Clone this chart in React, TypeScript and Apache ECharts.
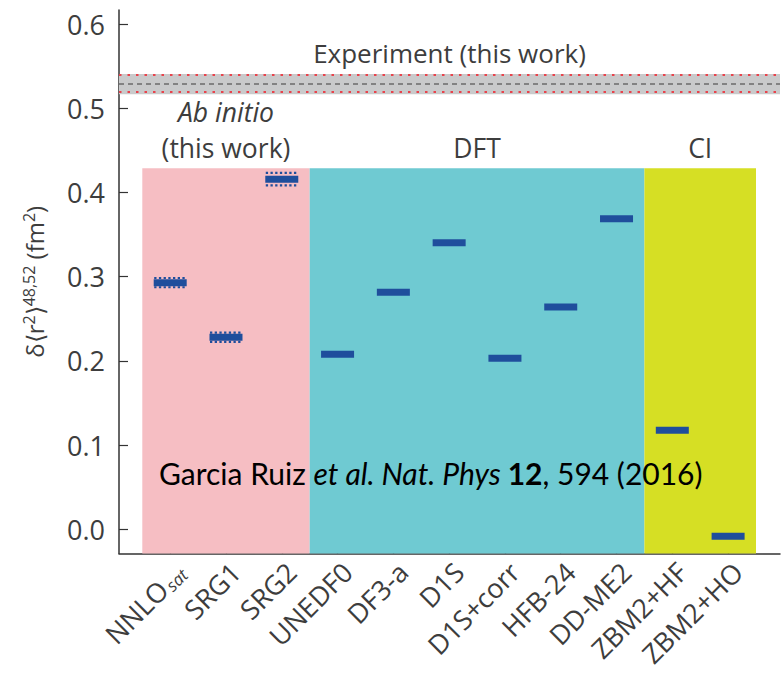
import React, { useEffect, useRef } from "react";
import * as echarts from "echarts";

// ---------- data ----------
const categories = ["NNLO_sat", "SRG1", "SRG2", "UNEDF0", "DF3-a", "D1S", "D1S+corr", "HFB-24", "DD-ME2", "ZBM2+HF", "ZBM2+HO"];
const theoryValues = [0.293, 0.228, 0.416, 0.208, 0.2815, 0.3405, 0.203, 0.264, 0.369, 0.1177, -0.0083];
const errIndex = [0, 1, 2];
const errValues = [0.0055, 0.0055, 0.0075];

const groupNames = ["Ab initio", "DFT", "CI"];
const groupStart = [0, 3, 9];
const groupEnd = [2, 8, 10];
const groupTop = 0.429;

const expValue = 0.529;
const expStatErr = 0.006;
const expSysErr = 0.012;

const yTickLabels = ["0.0", "0.1", "0.2", "0.3", "0.4", "0.5", "0.6"];
const Y_MIN = -0.0289;
const Y_MAX = 0.617;

// ---------- styles ----------
const groupColors = ["#f6bec3", "#6fcad2", "#d6df24"];
const barColor = "#1f4e9c";
const textColor = "#3d3d3d";
const FONT = "Open Sans";

export default function App() {
  const ref = useRef<HTMLDivElement>(null);
  useEffect(() => {
    if (!ref.current) return;
    const chart = echarts.init(ref.current, null, { renderer: "svg" });
    const top = 10;
    const bottom = 121.5;
    const option: any = {
      animation: false,
      backgroundColor: "#ffffff",
      grid: [
        { left: 119, right: 1, top, bottom, containLabel: false },
        { left: 142.3, right: 25, top, bottom, containLabel: false },
      ],
      xAxis: [
        {
          gridIndex: 0,
          type: "value",
          min: 0,
          max: 1,
          axisLine: { show: true, onZero: false, lineStyle: { color: "#333", width: 1.5 } },
          axisTick: { show: false },
          axisLabel: { show: false },
          splitLine: { show: false },
        },
        {
          gridIndex: 1,
          type: "category",
          data: categories,
          boundaryGap: true,
          axisLine: { show: false, onZero: false },
          axisTick: { show: true, inside: true, length: 12, alignWithLabel: true, lineStyle: { color: "#333", width: 1.2 } },
          axisLabel: {
            rotate: 45,
            margin: 4,
            interval: 0,
            verticalAlign: "top",
            fontFamily: FONT,
            fontSize: 27,
            color: textColor,
            formatter: (v: string) => {
              if (v.indexOf("_") >= 0) {
                const [a, b] = v.split("_");
                return `{n|${a}}{s|${b}}`;
              }
              return `{n|${v}}`;
            },
            rich: {
              n: { fontFamily: FONT, fontSize: 27, color: textColor },
              s: { fontFamily: FONT, fontSize: 17, fontStyle: "italic", color: textColor, verticalAlign: "bottom", padding: [12, 0, 0, 2] },
            },
          },
          splitLine: { show: false },
        },
      ],
      yAxis: [
        {
          gridIndex: 0,
          type: "value",
          min: Y_MIN,
          max: Y_MAX,
          minInterval: 0.1,
          maxInterval: 0.1,
          axisLine: { show: true, onZero: false, lineStyle: { color: "#333", width: 1.5 } },
          axisTick: { show: true, inside: true, length: 9, lineStyle: { color: "#333", width: 1.2 } },
          axisLabel: {
            margin: 14,
            fontFamily: FONT,
            fontSize: 27,
            color: textColor,
            showMinLabel: false,
            showMaxLabel: false,
            formatter: (v: number) => {
              const k = Math.round(v * 10);
              if (Math.abs(v * 10 - k) > 1e-6) return "";
              return yTickLabels[k] ?? "";
            },
          },
          splitLine: { show: false },
          name: "{a|δ⟨r}{s|2}{a|⟩}{s|48,52}{a| (fm}{s|2}{a|)}",
          nameLocation: "middle",
          nameGap: 72,
          nameTextStyle: {
            rich: {
              a: { fontFamily: FONT, fontSize: 24, color: textColor },
              s: { fontFamily: FONT, fontSize: 16, color: textColor, verticalAlign: "top", padding: [0, 0, 10, 0] },
            },
          },
        },
        {
          gridIndex: 1,
          type: "value",
          min: Y_MIN,
          max: Y_MAX,
          show: false,
          splitLine: { show: false },
        },
      ],
      series: [
        {
          name: "groups",
          type: "custom",
          xAxisIndex: 1,
          yAxisIndex: 1,
          z: 1,
          data: groupNames.map((n, i) => [groupStart[i], groupEnd[i], i]),
          renderItem: (params: any, api: any) => {
            const s = api.value(0);
            const e = api.value(1);
            const gi = api.value(2);
            const w = api.size([1, 0])[0];
            const p0 = api.coord([s, groupTop]);
            const p1 = api.coord([e, Y_MIN]);
            const x0 = p0[0] - w / 2;
            const x1 = p1[0] + w / 2;
            const label = gi === 0 ? "{i|Ab initio}\n{n|(this work)}" : `{n|${groupNames[gi]}}`;
            return {
              type: "group",
              children: [
                {
                  type: "rect",
                  shape: { x: x0, y: p0[1], width: x1 - x0, height: p1[1] - p0[1] },
                  style: { fill: groupColors[gi] },
                },
                {
                  type: "text",
                  x: (x0 + x1) / 2,
                  y: p0[1] - 2,
                  style: {
                    text: label,
                    align: "center",
                    verticalAlign: "bottom",
                    rich: {
                      i: { fontFamily: FONT, fontSize: 26.5, fontStyle: "italic", fill: textColor, lineHeight: 36 },
                      n: { fontFamily: FONT, fontSize: 26.5, fill: textColor, lineHeight: 36 },
                    },
                  },
                },
              ],
            };
          },
        },
        {
          name: "Experiment",
          type: "line",
          xAxisIndex: 0,
          yAxisIndex: 0,
          z: 3,
          symbol: "none",
          data: [
            [0, expValue],
            [1, expValue],
          ],
          lineStyle: { color: "#6b6b6b", width: 1.5, type: [5, 4] },
          markArea: {
            silent: true,
            itemStyle: { color: "#c9cacb" },
            label: {
              show: true,
              position: "top",
              distance: 8,
              fontFamily: FONT,
              fontSize: 26,
              color: textColor,
            },
            data: [[{ yAxis: expValue + expSysErr, name: "Experiment (this work)" }, { yAxis: expValue - expSysErr }]],
          },
          markLine: {
            silent: true,
            symbol: "none",
            label: { show: false },
            lineStyle: { color: "#e8434c", width: 2, type: [2.5, 6] },
            data: [{ yAxis: expValue + expStatErr }, { yAxis: expValue - expStatErr }],
          },
        },
        {
          name: "errors",
          type: "custom",
          xAxisIndex: 1,
          yAxisIndex: 1,
          z: 4,
          data: errIndex.map((ix, i) => [ix, theoryValues[ix], errValues[i]]),
          renderItem: (params: any, api: any) => {
            const x = api.value(0);
            const v = api.value(1);
            const e = api.value(2);
            const pu = api.coord([x, v + e]);
            const pd = api.coord([x, v - e]);
            const hw = 16;
            const st = { stroke: barColor, lineWidth: 2.2, lineDash: [2.3, 2.4] };
            return {
              type: "group",
              children: [
                { type: "line", shape: { x1: pu[0] - hw, y1: pu[1], x2: pu[0] + hw, y2: pu[1] }, style: st },
                { type: "line", shape: { x1: pd[0] - hw, y1: pd[1], x2: pd[0] + hw, y2: pd[1] }, style: st },
              ],
            };
          },
        },
        {
          name: "theory",
          type: "scatter",
          xAxisIndex: 1,
          yAxisIndex: 1,
          z: 5,
          symbol: "rect",
          symbolSize: [33, 7],
          itemStyle: { color: barColor, opacity: 1 },
          data: theoryValues.map((v, i) => [i, v]),
        },
      ],
      graphic: [
        {
          type: "text",
          left: 159,
          top: 458,
          z: 10,
          style: {
            text: "{r|Garcia Ruiz }{i|et al. Nat. Phys }{b|12}{r|, 594 (2016)}",
            rich: {
              r: { fontFamily: "Lato", fontSize: 30, fill: "#000" },
              i: { fontFamily: "Lato", fontSize: 30, fontStyle: "italic", fill: "#000" },
              b: { fontFamily: "Lato", fontSize: 30, fontWeight: "bold", fill: "#000" },
            },
          },
        },
      ],
    };
    chart.setOption(option);
    return () => chart.dispose();
  }, []);
  return <div ref={ref} style={{ position: "fixed", left: 0, top: 0, width: 781, height: 675 }} />;
}
